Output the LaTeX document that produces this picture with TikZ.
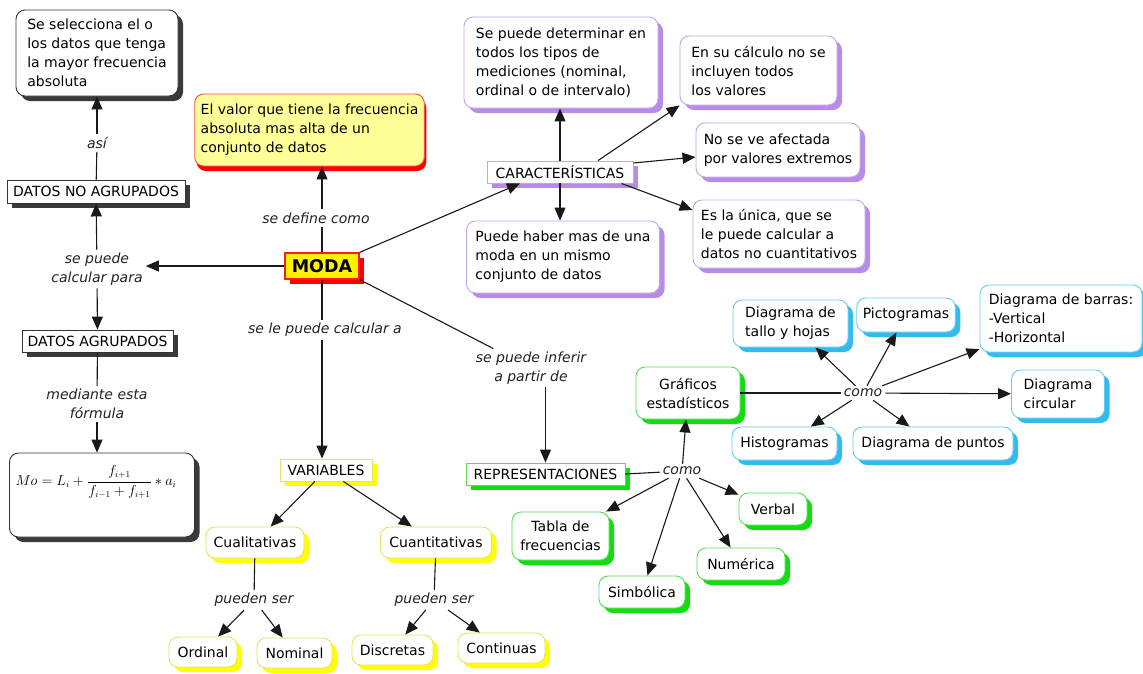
\documentclass[tikz,border=0pt]{standalone}
\usepackage{fontspec}
\setmainfont{DejaVu Sans}
\usetikzlibrary{arrows.meta,shadows,calc}

\definecolor{blkline}{HTML}{333333}
\definecolor{blkshadow}{HTML}{3A3A3A}
\definecolor{purline}{HTML}{C4A4EE}
\definecolor{purshadow}{HTML}{B68CE6}
\definecolor{cyanline}{HTML}{66CCEE}
\definecolor{cyanshadow}{HTML}{33BBEE}
\definecolor{grnline}{HTML}{55DD55}
\definecolor{grnshadow}{HTML}{11DD11}
\definecolor{yelline}{HTML}{E2E266}
\definecolor{yelshadow}{HTML}{FFFF00}
\definecolor{redline}{HTML}{FF1A1A}
\definecolor{deffill}{HTML}{FFFF99}
\definecolor{linktext}{HTML}{222222}

\begin{document}
\begin{tikzpicture}[x=1pt,y=-1pt,
  font=\fontsize{14}{19}\selectfont,
  base/.style={draw, line width=0.9pt, fill=white, inner xsep=6pt, inner ysep=3pt, align=center},
  rbox/.style={base, rounded corners=9pt},
  sbox/.style={base, inner xsep=3pt},
  shad/.style={drop shadow={shadow xshift=5pt, shadow yshift=-5pt, fill=#1, opacity=1}},
  blk/.style={draw=blkline, shad=blkshadow},
  pur/.style={draw=purline, shad=purshadow},
  cya/.style={draw=cyanline, shad=cyanshadow},
  grn/.style={draw=grnline, shad=grnshadow},
  yel/.style={draw=yelline, shad=yelshadow},
  wh/.style n args={2}{minimum width=#1pt, minimum height=#2pt},
  link/.style={font=\fontsize{14}{19}\selectfont\itshape, inner sep=3pt, align=center, text=linktext},
  ln/.style={line width=1.1pt, draw=black!90},
  arr/.style={ln, -{Triangle[length=13pt,width=11pt]}},
]
\fill[white] (0,0) rectangle (1143,673);
\path[use as bounding box] (0,0) rectangle (1143,673);

% ---- central concept and its definition
\node[base, fill=yellow, draw=redline, line width=1.2pt, shad=red, wh={74}{26},
      font=\fontsize{17.5}{20}\selectfont\bfseries, inner xsep=3pt] (moda) at (322,266) {MODA};
\node[rbox, fill=deffill, draw=redline!80, drop shadow={shadow xshift=2pt, shadow yshift=-5pt, fill=red, opacity=1},
      wh={208}{72}, align=left] (def) at (309.5,130)
      {El valor que tiene la frecuencia\\absoluta mas alta de un\\conjunto de datos};
\node[link] (sedef) at (316,218) {se define como};

% ---- left column: grouped and ungrouped data
\node[rbox, blk, wh={162}{86}, align=left] (selec) at (97,53)
      {Se selecciona el o\\los datos que tenga\\la mayor frecuencia\\absoluta};
\node[link] (asi) at (97,143) {así};
\node[sbox, blk, wh={178}{23}] (dna) at (96,191.5) {DATOS NO AGRUPADOS};
\node[link] (calc) at (97,269) {se puede\\calcular para};
\node[sbox, blk, wh={151}{22}] (da) at (97.5,341) {DATOS AGRUPADOS};
\node[link] (form) at (97,404) {mediante esta\\fórmula};
\node[rbox, blk, wh={185}{84}] (fbox) at (102,495) {};
\node[inner sep=0pt] (mo) at (96,482)
      {\fontsize{13.5}{16}\selectfont $\displaystyle Mo = L_i + \frac{f_{i+1}}{f_{i-1}+f_{i+1}} \ast a_i$};

% ---- characteristics
\node[sbox, pur, wh={146}{22}] (caract) at (560,172) {CARACTERÍSTICAS};
\node[rbox, pur, wh={194}{91}, align=left] (sepuede) at (561,62.5)
      {Se puede determinar en\\todos los tipos de\\mediciones (nominal,\\ordinal o de intervalo)};
\node[rbox, pur, wh={157}{69}, align=left] (ensu) at (758.5,70.5)
      {En su cálculo no se\\incluyen todos\\los valores};
\node[rbox, pur, wh={164}{54}, align=left] (nose) at (778,150)
      {No se ve afectada\\por valores extremos};
\node[rbox, pur, wh={172}{68}, align=left] (esla) at (779,234)
      {Es la única, que se\\le puede calcular a\\datos no cuantitativos};
\node[rbox, pur, wh={193}{72}, align=left] (puede) at (563,257)
      {Puede haber mas de una\\moda en un mismo\\conjunto de datos};

% ---- variables
\node[link] (selecalc) at (325,330) {se le puede calcular a};
\node[sbox, yel, wh={92}{22}] (vars) at (326,470) {VARIABLES};
\node[rbox, yel, wh={98}{31}] (cual) at (255,542.5) {Cualitativas};
\node[rbox, yel, wh={111}{31}] (cuan) at (436,542.5) {Cuantitativas};
\node[link] (ps1) at (254,600) {pueden ser};
\node[link] (ps2) at (434,600) {pueden ser};
\node[rbox, yel, wh={68}{30}] (ord) at (203,652) {Ordinal};
\node[rbox, yel, wh={75}{30}] (nom) at (294.5,653) {Nominal};
\node[rbox, yel, wh={81}{30}] (disc) at (392.5,650) {Discretas};
\node[rbox, yel, wh={87}{30}] (cont) at (501.5,648) {Continuas};

% ---- representations
\node[link] (inferir) at (531,368) {se puede inferir\\a partir de};
\node[sbox, grn, wh={159}{22}] (repr) at (545.5,474) {REPRESENTACIONES};
\node[link] (como1) at (682,471) {como};
\node[rbox, grn, wh={104}{52}] (graf) at (688,393) {Gráficos\\estadísticos};
\node[rbox, grn, wh={97}{48}] (tabla) at (560.5,536) {Tabla de\\frecuencias};
\node[rbox, grn, wh={86}{32}] (simb) at (642,592) {Simbólica};
\node[rbox, grn, wh={88}{32}] (num) at (741,564) {Numérica};
\node[rbox, grn, wh={68}{32}] (verbal) at (773,509) {Verbal};

% ---- statistical charts
\node[link] (como2) at (863,393) {como};
\node[rbox, cya, wh={115}{47}, align=left] (tallo) at (790.5,323.5) {Diagrama de\\tallo y hojas};
\node[rbox, cya, wh={97}{34}] (picto) at (906,315) {Pictogramas};
\node[rbox, cya, wh={162}{67}, align=left] (barras) at (1061,318.5)
      {Diagrama de barras:\\-Vertical\\-Horizontal};
\node[rbox, cya, wh={93}{48}, align=left] (circ) at (1058,394) {Diagrama\\circular};
\node[rbox, cya, wh={105}{33}] (histo) at (784.5,443.5) {Histogramas};
\node[rbox, cya, wh={160}{33}] (puntos) at (933,443.5) {Diagrama de puntos};

% ---- connectors: left column
\draw[ln] (dna) -- (asi);
\draw[arr] (asi) -- (selec);
\draw[arr] (calc) -- (dna);
\draw[arr] (calc) -- (da);
\draw[ln] (da) -- (form);
\draw[arr] (form.south) -- (form.south |- fbox.north);
\draw[arr] (moda.west) -- (calc.east |- moda.west);

% ---- connectors: from MODA
\draw[ln] (moda.north) -- (moda.north |- sedef.south);
\draw[arr] (moda.north |- sedef.north) -- (moda.north |- def.south);
\draw[ln] (moda.south) -- (moda.south |- selecalc.north);
\draw[arr] (moda.south |- selecalc.south) -- (moda.south |- vars.north);
\draw[arr] (moda.north east) -- ([xshift=-40pt]caract.south);
\draw[ln] (moda.south east) -- (inferir);
\draw[arr] (inferir.south -| repr.north) -- (repr.north);

% ---- connectors: characteristics
\draw[arr] (caract.north) -- (sepuede.south -| caract.north);
\draw[arr] (caract.south) -- (puede.north -| caract.south);
\draw[arr] ([xshift=38pt]caract.north) -- (ensu.south west);
\draw[arr] ([yshift=9pt]caract.east) -- ([yshift=-7pt]nose.west);
\draw[arr] ([xshift=-12pt]caract.south east) -- ([yshift=24pt]esla.west);

% ---- connectors: variables
\draw[arr] (vars) -- (cual);
\draw[arr] (vars) -- (cuan);
\draw[ln] (cual) -- (ps1);
\draw[ln] (cuan) -- (ps2);
\draw[arr] (ps1) -- (ord);
\draw[arr] (ps1) -- (nom);
\draw[arr] (ps2) -- (disc);
\draw[arr] (ps2) -- (cont);

% ---- connectors: representations
\draw[ln] (repr.east) -- (como1);
\draw[arr] (como1) -- (graf);
\draw[arr] (como1) -- (tabla);
\draw[arr] (como1) -- (simb);
\draw[arr] (como1) -- (num);
\draw[arr] (como1) -- (verbal);
\draw[ln] (graf.east) -- (como2);
\draw[arr] (como2) -- (tallo);
\draw[arr] (como2) -- (picto);
\draw[arr] (como2) -- (barras);
\draw[arr] (como2) -- (circ);
\draw[arr] (como2) -- (histo);
\draw[arr] (como2) -- (puntos);
\end{tikzpicture}
\end{document}
